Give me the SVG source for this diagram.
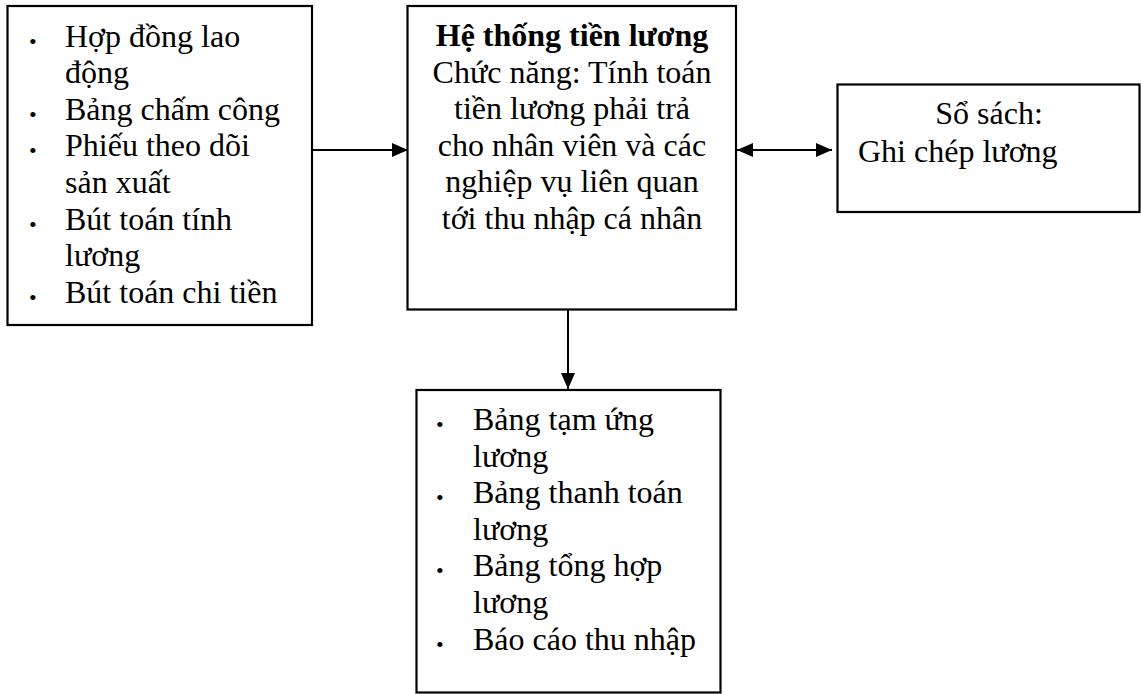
<svg xmlns="http://www.w3.org/2000/svg" width="1141" height="694" viewBox="0 0 1141 694">
<defs>
<style>
.box{fill:#fff;stroke:#000;stroke-width:2.2}
.t{font-family:"Liberation Serif","Times New Roman",serif;font-size:32px;fill:#000}
.b{font-weight:bold}
.c{text-anchor:middle}
.bul{font-family:"Liberation Serif","Times New Roman",serif;font-size:22px;fill:#000}
.ln{stroke:#000;stroke-width:2;fill:none}
</style>
<marker id="ah" markerUnits="userSpaceOnUse" markerWidth="16" markerHeight="14" refX="16" refY="7" orient="auto-start-reverse" viewBox="0 0 16 14">
<path d="M0,0 L16,7 L0,14 z" fill="#000"/>
</marker>
</defs>
<rect width="1141" height="694" fill="#fff"/>
<g id="connectors">
<line class="ln" x1="313" y1="150" x2="408" y2="150" marker-end="url(#ah)"/>
<line class="ln" x1="737" y1="150" x2="832" y2="150" marker-start="url(#ah)" marker-end="url(#ah)"/>
<line class="ln" x1="568" y1="310" x2="568" y2="389" marker-end="url(#ah)"/>
</g>
<g id="inputs">
<rect class="box" x="7.5" y="6" width="304.5" height="319"/>
<text class="bul" x="29" y="48.5">•</text>
<text class="t" x="65" y="46.5">Hợp đồng lao</text>
<text class="t" x="65" y="83">động</text>
<text class="bul" x="29" y="121.7">•</text>
<text class="t" x="65" y="119.7">Bảng chấm công</text>
<text class="bul" x="29" y="158.3">•</text>
<text class="t" x="65" y="156.3">Phiếu theo dõi</text>
<text class="t" x="65" y="192.9">sản xuất</text>
<text class="bul" x="29" y="231.5">•</text>
<text class="t" x="65" y="229.5">Bút toán tính</text>
<text class="t" x="65" y="266.1">lương</text>
<text class="bul" x="29" y="304.7">•</text>
<text class="t" x="65" y="302.7">Bút toán chi tiền</text>
</g>
<g id="system">
<rect class="box" x="407.5" y="6" width="328.5" height="303.5"/>
<text class="t b c" x="572" y="46">Hệ thống tiền lương</text>
<text class="t c" x="572" y="82.6">Chức năng: Tính toán</text>
<text class="t c" x="572" y="119.2">tiền lương phải trả</text>
<text class="t c" x="572" y="155.8">cho nhân viên và các</text>
<text class="t c" x="572" y="192.4">nghiệp vụ liên quan</text>
<text class="t c" x="572" y="229">tới thu nhập cá nhân</text>
</g>
<g id="ledger">
<rect class="box" x="837.5" y="84.5" width="302" height="127.5"/>
<text class="t c" x="989" y="124">Sổ sách:</text>
<text class="t" x="858" y="162">Ghi chép lương</text>
</g>
<g id="outputs">
<rect class="box" x="416.5" y="390" width="304" height="302.5"/>
<text class="bul" x="436" y="432">•</text>
<text class="t" x="473" y="430">Bảng tạm ứng</text>
<text class="t" x="473" y="466.6">lương</text>
<text class="bul" x="436" y="505.2">•</text>
<text class="t" x="473" y="503.2">Bảng thanh toán</text>
<text class="t" x="473" y="539.8">lương</text>
<text class="bul" x="436" y="578.4">•</text>
<text class="t" x="473" y="576.4">Bảng tổng hợp</text>
<text class="t" x="473" y="613">lương</text>
<text class="bul" x="436" y="651.6">•</text>
<text class="t" x="473" y="649.6">Báo cáo thu nhập</text>
</g>
</svg>
